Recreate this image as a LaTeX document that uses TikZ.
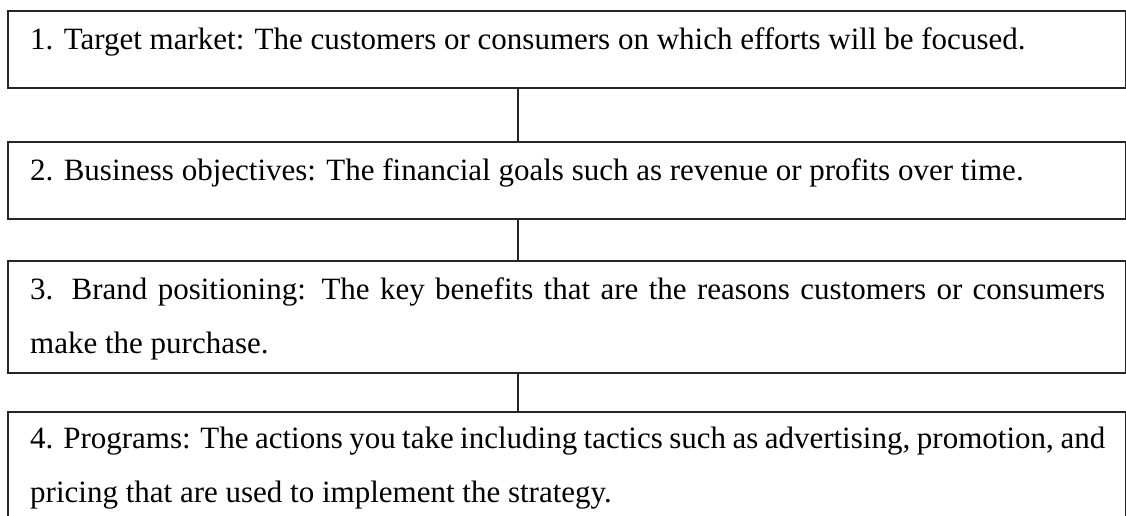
\documentclass[tikz,border=0pt]{standalone}
\usepackage{fontspec}
\setmainfont{Liberation Serif}
\begin{document}
\begin{tikzpicture}[x=1pt,y=-1pt,
  box/.style={draw=black!85,line width=1.5pt,rectangle,inner sep=0pt,anchor=north west},
  txt/.style={inner sep=0pt,anchor=north west,text width=1075pt,align=justify,font=\fontsize{31}{54}\selectfont},
  link/.style={draw=black!85,line width=1.5pt}]
\clip (0,0) rectangle (1126,515);
\node[box,minimum width=1118pt,minimum height=77pt] (b1) at (7,10) {};
\node[box,minimum width=1118pt,minimum height=77pt] (b2) at (7,141) {};
\node[box,minimum width=1118pt,minimum height=112pt] (b3) at (7,260) {};
\node[box,minimum width=1118pt,minimum height=112pt] (b4) at (7,411) {};
\node[txt] (t1) at (30,27) {1. Target market: The customers or consumers on which efforts will be focused.};
\node[txt] (t2) at (30,158) {2. Business objectives: The financial goals such as revenue or profits over time.};
\node[txt] (t3) at (30,277) {3. Brand positioning: The key benefits that are the reasons customers or consumers make the purchase.};
\node[txt] (t4) at (30,427) {4. Programs: The actions you take including tactics such as advertising, promotion, and pricing that are used to implement the strategy.};
\coordinate (cx) at (518,0);
\draw[link] (b1.south -| cx) -- (b2.north -| cx);
\draw[link] (b2.south -| cx) -- (b3.north -| cx);
\draw[link] (b3.south -| cx) -- (b4.north -| cx);
\end{tikzpicture}
\end{document}
